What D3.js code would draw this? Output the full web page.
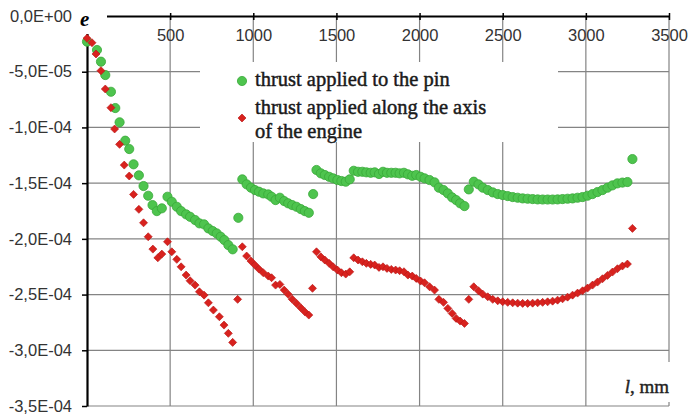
<!DOCTYPE html>
<html>
<head>
<meta charset="utf-8">
<script src="https://cdn.jsdelivr.net/npm/d3@7"></script>
<style>
  body { margin: 0; background: #fff; }
  svg { display: block; }
</style>
</head>
<body>
<svg id="chart"></svg>
<script>

// length along the shaft, mm
var pinLength = [0, 60, 84, 110, 144, 170, 196, 230, 254, 280, 312, 340, 368, 394, 420, 450,
  484, 510, 540, 566, 596, 620, 650, 676, 704, 730, 756, 780, 804, 826, 850, 876, 910,
  934, 960, 986, 1010, 1034, 1060, 1090, 1110, 1134, 1160, 1186, 1210, 1234, 1260, 1286, 1310, 1334, 1360,
  1380, 1406, 1430, 1456, 1480, 1506, 1530, 1556, 1580, 1604, 1630, 1656, 1680, 1706, 1730, 1756, 1780,
  1804, 1830, 1856, 1880, 1906, 1930, 1956, 1980, 2006, 2030, 2060, 2090, 2116, 2144, 2170, 2196, 2220,
  2244, 2270, 2296,
  2326, 2354, 2380, 2410, 2440, 2470, 2500, 2530, 2560, 2590, 2620, 2650, 2680, 2710, 2740, 2770, 2800,
  2830, 2860, 2890, 2920, 2950, 2980, 3010, 3040, 3070, 3100, 3130, 3160, 3190, 3220, 3250, 3280]

// strain, in units of 1E-05 (thrust applied to the pin)
var pinStrain = [-2.3, -3.05, -4.1, -5.3, -6.8, -8.26, -9.54, -11.19, -11.94, -13.31, -14.3, -15.26, -16.13, -16.97, -17.51, -17.26,
  -16.22, -16.67, -17.12, -17.51, -17.8, -18.02, -18.31, -18.61, -18.7, -19.06, -19.3, -19.51, -19.81, -20.11, -20.56, -20.94, -18.11,
  -14.66, -15.11, -15.41, -15.62, -15.77, -15.92, -16.01, -16.22, -16.52, -16.31, -16.61, -16.81, -16.97, -17.12, -17.33, -17.51, -17.66, -15.98,
  -13.82, -14.12, -14.27, -14.43, -14.57, -14.72, -14.81, -14.87, -14.66, -13.89, -13.98, -13.98, -14.03, -14.07, -14.03, -14.18, -13.98,
  -14.07, -14.07, -14.07, -14.12, -14.07, -14.21, -14.34, -14.27, -14.43, -14.57, -14.72, -14.93, -15.41, -15.62, -15.92, -16.28, -16.52,
  -16.81, -17.06, -15.56,
  -14.87, -15.11, -15.41, -15.62, -15.83, -15.98, -16.07, -16.16, -16.25, -16.31, -16.37, -16.4, -16.43, -16.46, -16.47, -16.47, -16.47,
  -16.46, -16.43, -16.4, -16.37, -16.31, -16.25, -16.13, -15.98, -15.8, -15.62, -15.41, -15.2, -15.02, -14.95, -14.9, -12.84]

var engineLength = [0, 30, 54, 84, 110, 144, 166, 196, 224, 254, 280, 312, 340, 368, 396, 426, 450,
  484, 510, 540, 566, 596, 620, 650, 676, 704, 730, 760, 796, 824, 850, 876, 906,
  934, 960, 986, 1010, 1034, 1060, 1090, 1110, 1134, 1160, 1186, 1210, 1234, 1260, 1286, 1310, 1334, 1356,
  1380, 1406, 1430, 1456, 1480, 1506, 1530, 1556, 1580, 1604, 1630, 1656, 1680, 1706, 1730, 1756, 1780,
  1804, 1830, 1856, 1880, 1906, 1930, 1956, 1980, 2006, 2030, 2060, 2090, 2116, 2144, 2170, 2196, 2220,
  2244, 2270, 2296,
  2326, 2354, 2380, 2410, 2440, 2470, 2500, 2530, 2560, 2590, 2620, 2650, 2680, 2710, 2740, 2770, 2800,
  2830, 2860, 2890, 2920, 2950, 2980, 3010, 3040, 3070, 3100, 3130, 3160, 3190, 3220, 3250, 3280]

// strain, in units of 1E-05 (thrust applied along the axis of the engine)
var engineStrain = [-2.0, -2.4, -3.41, -4.91, -6.55, -8.23, -10.14, -11.52, -13.38, -14.36, -16.01, -17.35, -18.56, -19.81, -20.92, -21.7, -21.37,
  -20.26, -21.16, -21.84, -22.51, -23.25, -23.76, -24.15, -24.75, -25.05, -25.74, -26.39, -26.99, -27.74, -28.48, -29.29, -25.43,
  -20.71, -21.54, -21.99, -22.35, -22.71, -23.04, -23.34, -23.49, -24.15, -24.09, -24.6, -24.98, -25.41, -25.79, -26.19, -26.55, -26.84, -24.44,
  -21.16, -21.61, -21.9, -22.2, -22.51, -22.8, -23.04, -23.16, -22.96, -21.7, -21.9, -22.06, -22.2, -22.29, -22.35, -22.56, -22.51,
  -22.65, -22.74, -22.8, -22.86, -22.95, -23.25, -23.34, -23.55, -23.79, -23.94, -24.3, -24.6, -25.43, -25.7, -26.24, -26.69, -27.14,
  -27.38, -27.59, -25.43,
  -24.3, -24.66, -24.96, -25.2, -25.43, -25.56, -25.65, -25.7, -25.74, -25.77, -25.79, -25.79, -25.77, -25.74, -25.7, -25.65, -25.59,
  -25.5, -25.38, -25.23, -25.05, -24.87, -24.66, -24.42, -24.15, -23.88, -23.58, -23.28, -22.98, -22.68, -22.44, -22.26, -19.06]

var xTicks = [500, 1000, 1500, 2000, 2500, 3000, 3500]
var yTicks = [0, -5e-5, -1e-4, -1.5e-4, -2e-4, -2.5e-4, -3e-4, -3.5e-4]
var legendLabels = [["thrust applied to the pin"], ["thrust applied along the axis", "of the engine"]]

// set the dimensions
var dimensions = {
  width: 690,
  height: 415,
  left: 87,
  right: 669,
  top: 16,
  bottom: 406
}

var svg = d3.select("#chart")
  .attr("width", dimensions.width)
  .attr("height", dimensions.height)
  .style("font-family", "'Liberation Sans', Arial, sans-serif")

var x = d3.scaleLinear()
  .domain([0, 3500])
  .range([dimensions.left, dimensions.right])

var y = d3.scaleLinear()
  .domain([-3.5e-4, 0])
  .range([dimensions.bottom, dimensions.top])

// 0,0E+00 style labels
function sciComma(v) {
  if (v == 0) return "0,0E+00"
  var parts = v.toExponential(1).split("e")
  var ex = +parts[1]
  var exStr = (ex < 0 ? "-" : "+") + String(Math.abs(ex)).padStart(2, "0")
  return parts[0].replace(".", ",") + "E" + exStr
}

// grid
svg.append("g")
  .selectAll("line")
  .data(yTicks.filter(d => d != 0))
  .join("line")
  .attr("x1", x(0)).attr("x2", x(3500))
  .attr("y1", d => y(d)).attr("y2", d => y(d))
  .attr("stroke", "#848484")
  .attr("stroke-width", 1.2)

svg.append("g")
  .selectAll("line")
  .data(xTicks)
  .join("line")
  .attr("x1", d => x(d)).attr("x2", d => x(d))
  .attr("y1", y(0)).attr("y2", y(-3.5e-4))
  .attr("stroke", "#848484")
  .attr("stroke-width", 1.2)

// x axis on top
var xAxis = svg.append("g")
  .attr("transform", "translate(0," + y(0) + ")")
  .call(d3.axisTop(x).tickValues(xTicks).tickSize(3).tickSizeOuter(0).tickFormat(d => d))
xAxis.select(".domain").attr("stroke", "#000").attr("stroke-width", 2.2)
xAxis.selectAll(".tick line").attr("stroke", "#000").attr("stroke-width", 1.5).attr("y2", 4).attr("y1", -3)
xAxis.selectAll(".tick text")
  .attr("y", 25)
  .attr("dy", 0)
  .style("font-size", "16.5px")
  .attr("fill", "#333")

// y axis
var yAxis = svg.append("g")
  .attr("transform", "translate(" + x(0) + ",0)")
  .call(d3.axisLeft(y).tickValues(yTicks).tickSize(5).tickSizeOuter(0).tickFormat(sciComma))
yAxis.select(".domain").attr("stroke", "#000").attr("stroke-width", 2.2)
yAxis.selectAll(".tick line").attr("stroke", "#000").attr("stroke-width", 1.5)
yAxis.selectAll(".tick text")
  .attr("x", -15)
  .style("font-size", "16.5px")
  .attr("fill", "#333")

// white patch behind the "e" label
svg.append("rect")
  .attr("x", x(0) - 10).attr("y", 0)
  .attr("width", 30).attr("height", 34)
  .attr("fill", "#fff")

svg.append("text")
  .attr("x", 80)
  .attr("y", 26)
  .style("font-family", "'Liberation Serif', 'Times New Roman', serif")
  .style("font-size", "21px")
  .style("font-weight", "bold")
  .style("font-style", "italic")
  .text("e")

// legend box hides the grid behind it
svg.append("rect")
  .attr("x", 200).attr("y", 62)
  .attr("width", 358).attr("height", 80)
  .attr("fill", "#fff")

// axis title at the bottom right
svg.append("rect")
  .attr("x", 612).attr("y", 362)
  .attr("width", 62).attr("height", 40)
  .attr("fill", "#fff")

var lab = svg.append("text")
  .attr("x", x(3500))
  .attr("y", 393)
  .attr("text-anchor", "end")
  .style("font-family", "'Liberation Serif', 'Times New Roman', serif")
  .style("font-size", "19px")
  .attr("fill", "#222")
  .attr("stroke", "#222")
  .attr("stroke-width", 0.4)
lab.append("tspan").style("font-style", "italic").text("l")
lab.append("tspan").text(", mm")

// data points
var pinData = d3.zip(pinLength, pinStrain.map(v => v * 1e-5))
var engineData = d3.zip(engineLength, engineStrain.map(v => v * 1e-5))

svg.append("g")
  .selectAll("circle")
  .data(pinData)
  .join("circle")
  .attr("cx", d => x(d[0]))
  .attr("cy", d => y(d[1]))
  .attr("r", 4.6)
  .attr("fill", "#4ec44e")
  .attr("stroke", "#38a838")
  .attr("stroke-width", 0.8)

var diamond = d3.symbol().type(d3.symbolSquare).size(32)

svg.append("g")
  .selectAll("path")
  .data(engineData)
  .join("path")
  .attr("d", diamond)
  .attr("transform", d => "translate(" + x(d[0]) + "," + y(d[1]) + ") rotate(45)")
  .attr("fill", "#d8221e")
  .attr("stroke", "#b81414")
  .attr("stroke-width", 0.6)

// legend
var legend = svg.append("g")
legend.append("circle")
  .attr("cx", 242).attr("cy", 81)
  .attr("r", 4.6)
  .attr("fill", "#4ec44e")
  .attr("stroke", "#38a838")
  .attr("stroke-width", 0.8)
legend.append("path")
  .attr("d", diamond)
  .attr("transform", "translate(242,118) rotate(45)")
  .attr("fill", "#d8221e")
  .attr("stroke", "#b81414")
  .attr("stroke-width", 0.6)

var lineY = [[86], [114, 138]]
legendLabels.forEach(function(lines, i) {
  lines.forEach(function(t, j) {
    legend.append("text")
      .attr("x", 255)
      .attr("y", lineY[i][j])
      .style("font-family", "'Liberation Serif', 'Times New Roman', serif")
      .style("font-size", "20.5px")
      .attr("fill", "#1a1a1a")
      .attr("stroke", "#1a1a1a")
      .attr("stroke-width", 0.45)
      .text(t)
  })
})

</script>
</body>
</html>
